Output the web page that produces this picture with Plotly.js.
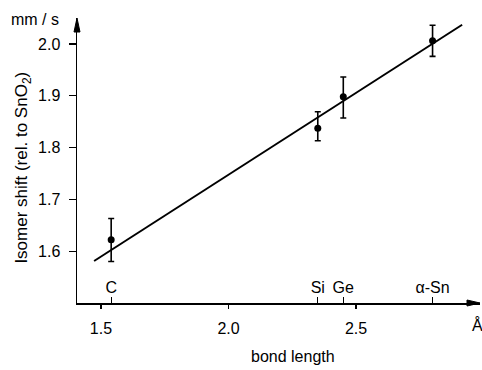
<!DOCTYPE html>
<html><head><meta charset="utf-8">
<script src="https://cdn.plot.ly/plotly-3.0.1.min.js"></script>
<style>html,body{margin:0;padding:0;background:#fff}</style>
</head><body>
<div id="chart" style="width:482px;height:370px"></div>
<script>
// Data
const elements = ["C", "Si", "Ge", "α-Sn"];
const bondLength = [1.54, 2.35, 2.45, 2.80];
const isomerShift = [1.622, 1.837, 1.898, 2.006];
const errPlus = [0.041, 0.032, 0.038, 0.030];
const errMinus = [0.042, 0.024, 0.041, 0.030];
const fitX = [1.473, 2.916];
const fitY = [1.581, 2.037];
const xTickVals = [1.5, 2.0, 2.5];
const xTickText = ["1.5", "2.0", "2.5"];
const yTickVals = [1.6, 1.7, 1.8, 1.9, 2.0];
const yTickText = ["1.6", "1.7", "1.8", "1.9", "2.0"];

const FONT = "Liberation Sans, Arial, sans-serif";
const XR = [1.406, 2.986];
const YR = [1.5, 2.05];
const TF = {family: FONT, size: 16, color: "#000"};

const traces = [
  {x: fitX, y: fitY, mode: "lines", line: {color: "#000", width: 2}, hoverinfo: "skip", showlegend: false},
  {x: bondLength, y: isomerShift, mode: "markers", marker: {color: "#000", size: 7},
   error_y: {type: "data", symmetric: false, array: errPlus, arrayminus: errMinus, color: "#000", thickness: 1.6, width: 3},
   showlegend: false},
  {x: bondLength, y: isomerShift, xaxis: "x2", mode: "markers", marker: {opacity: 0}, hoverinfo: "skip", showlegend: false}
];

const layout = {
  width: 482, height: 370,
  margin: {l: 77, r: 2, t: 18, b: 67},
  paper_bgcolor: "#fff", plot_bgcolor: "#fff",
  font: {family: FONT, size: 16, color: "#000"},
  xaxis: {range: XR, showgrid: false, zeroline: false, showline: true, linewidth: 1.5, linecolor: "#000",
    tickmode: "array", tickvals: xTickVals, ticktext: xTickText, ticks: "outside", ticklen: 4, tickwidth: 1.3,
    tickcolor: "#000", ticklabelstandoff: 6, tickfont: TF},
  xaxis2: {range: XR, overlaying: "x", side: "bottom", anchor: "y", showgrid: false, zeroline: false, showline: false,
    tickmode: "array", tickvals: bondLength, ticktext: elements, ticks: "inside", ticklen: 6, tickwidth: 1.3,
    tickcolor: "#000", ticklabelposition: "inside", ticklabelstandoff: 1, tickfont: TF},
  yaxis: {range: YR, showgrid: false, zeroline: false, showline: true, linewidth: 1.5, linecolor: "#000",
    tickmode: "array", tickvals: yTickVals, ticktext: yTickText, ticks: "outside", ticklen: 7, tickwidth: 1.3,
    tickcolor: "#000", ticklabelstandoff: 5, tickfont: TF},
  shapes: [
    {type: "path", xref: "paper", yref: "paper", xsizemode: "pixel", ysizemode: "pixel", xanchor: 0, yanchor: 1,
     path: "M -3 -14 L 0 0 L 3 -14 Z", fillcolor: "#000", line: {color: "#000", width: 1}},
    {type: "path", xref: "paper", yref: "paper", xsizemode: "pixel", ysizemode: "pixel", xanchor: 1, yanchor: 0,
     path: "M -13 -3 L 0 0 L -13 3 Z", fillcolor: "#000", line: {color: "#000", width: 1}}
  ],
  annotations: [
    {text: "Isomer shift (rel. to SnO<sub>2</sub>)", xref: "paper", yref: "paper", x: -0.134, y: 0.475,
     textangle: -90, showarrow: false, font: {family: FONT, size: 17, color: "#000"}, xanchor: "center", yanchor: "middle"},
    {text: "mm / s", xref: "paper", yref: "paper", x: -0.104, y: 0.993, showarrow: false, font: TF,
     xanchor: "center", yanchor: "middle"},
    {text: "bond length", xref: "paper", yref: "paper", x: 0.536, y: -0.189, showarrow: false, font: TF,
     xanchor: "center", yanchor: "middle"},
    {text: "Å", xref: "paper", yref: "paper", x: 0.9926, y: -0.077, showarrow: false, font: TF,
     xanchor: "center", yanchor: "middle"}
  ]
};

Plotly.newPlot("chart", traces, layout, {displayModeBar: false, staticPlot: true});
</script>
</body></html>
